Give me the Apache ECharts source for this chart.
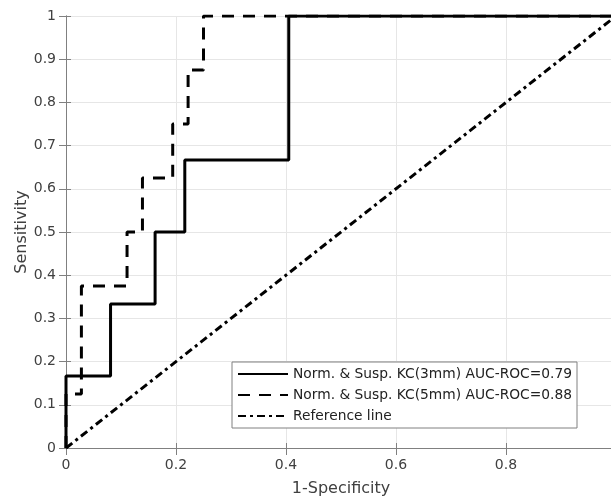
<!DOCTYPE html>
<html>
<head>
<meta charset="utf-8">
<script src="https://cdn.jsdelivr.net/npm/echarts@6/dist/echarts.min.js"></script>
<style>
  html, body { margin: 0; padding: 0; background: #fff; }
  #chart { width: 611px; height: 499px; }
</style>
</head>
<body>
<div id="chart"></div>
<script>
// ROC curve vertices [1-specificity, sensitivity]
const roc3mm = [[0, 0], [0, 0.1667], [0.081, 0.1667], [0.081, 0.3333], [0.162, 0.3333],
  [0.162, 0.5], [0.216, 0.5], [0.216, 0.6667], [0.405, 0.6667], [0.405, 1], [1, 1]];
const roc5mm = [[0, 0], [0, 0.125], [0.028, 0.125], [0.028, 0.375], [0.111, 0.375],
  [0.111, 0.5], [0.139, 0.5], [0.139, 0.625], [0.194, 0.625], [0.194, 0.75],
  [0.222, 0.75], [0.222, 0.875], [0.25, 0.875], [0.25, 1], [1, 1]];
const refLine = [[0, 0], [1, 1]];
const seriesNames = ['Norm. & Susp. KC(3mm) AUC-ROC=0.79', 'Norm. & Susp. KC(5mm) AUC-ROC=0.88', 'Reference line'];

const fuente = 'DejaVu Sans, Verdana, sans-serif';
const gris = '#808080';

const chart = echarts.init(document.getElementById('chart'));

const ejeComun = {
  type: 'value', min: 0, max: 1,
  axisLine: { show: true, lineStyle: { color: gris, width: 1 } },
  axisTick: { show: true, inside: true, length: 5, lineStyle: { color: gris } },
  splitLine: { show: true, lineStyle: { color: '#e6e6e6', width: 1 } },
  axisLabel: { color: '#404040', fontSize: 14, fontFamily: fuente, margin: 10 },
  nameTextStyle: { color: '#404040', fontSize: 16, fontFamily: fuente },
  nameMoveOverlap: false
};

// ejes espejo (arriba y derecha) solo para las marcas, como en MATLAB
const ejeEspejo = {
  type: 'value', min: 0, max: 1,
  axisLine: { show: true, lineStyle: { color: gris, width: 1 } },
  axisTick: { show: true, inside: true, length: 7, lineStyle: { color: gris } },
  axisLabel: { show: false }, splitLine: { show: false }
};

chart.setOption({
  animation: false,
  grid: { left: 66, top: 16, right: -5, bottom: 51, outerBoundsMode: 'none' },
  xAxis: [
    Object.assign({}, ejeComun, {
      interval: 0.2, name: '1-Specificity', nameLocation: 'middle', nameGap: 33
    }),
    Object.assign({}, ejeEspejo, { position: 'top', interval: 0.2 })
  ],
  yAxis: [
    Object.assign({}, ejeComun, {
      interval: 0.1, name: 'Sensitivity', nameLocation: 'middle', nameGap: 36,
      axisLabel: Object.assign({}, ejeComun.axisLabel, {
        formatter: v => (Math.round(v * 10) / 10).toString()
      })
    }),
    Object.assign({}, ejeEspejo, { position: 'right', interval: 0.1 })
  ],
  legend: {
    orient: 'vertical', left: 232, top: 362,
    padding: [5, 5, 5, 5], itemWidth: 50, itemHeight: 14, itemGap: 7,
    icon: 'inherit',
    itemStyle: { opacity: 0 },
    borderColor: gris, borderWidth: 1, backgroundColor: '#fff',
    textStyle: { color: '#222', fontSize: 13.8, fontFamily: fuente },
    data: seriesNames
  },
  series: [
    {
      name: seriesNames[2], type: 'line', data: refLine, symbol: 'none',
      itemStyle: { color: '#000' },
      lineStyle: { color: '#000', width: 3, type: [8, 4, 3, 4] }, z: 2
    },
    {
      name: seriesNames[1], type: 'line', data: roc5mm, symbol: 'none',
      itemStyle: { color: '#000' },
      lineStyle: { color: '#000', width: 3, type: [12, 9] }, z: 3
    },
    {
      name: seriesNames[0], type: 'line', data: roc3mm, symbol: 'none',
      itemStyle: { color: '#000' },
      lineStyle: { color: '#000', width: 3, type: 'solid' }, z: 4
    }
  ]
});
</script>
</body>
</html>
